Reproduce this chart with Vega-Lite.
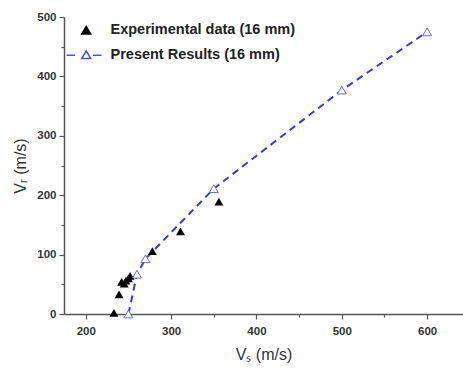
{
  "$schema": "https://vega.github.io/schema/vega-lite/v6.json",
  "autosize": "none",
  "width": 399,
  "height": 297,
  "padding": {"left": 64, "top": 17, "right": 0, "bottom": 55},
  "background": "white",
  "config": {
    "view": {"stroke": null},
    "font": "Liberation Sans",
    "axis": {
      "domainColor": "#555",
      "domainWidth": 1.5,
      "tickColor": "#555",
      "tickWidth": 1.2,
      "labelFont": "Liberation Sans",
      "labelFontWeight": "bold",
      "labelFontSize": 11.5,
      "labelColor": "#333",
      "titleFont": "Liberation Sans",
      "titleFontWeight": "normal",
      "titleFontSize": 16,
      "titleColor": "#333",
      "grid": false
    },
    "legend": {
      "orient": "none",
      "legendX": 15,
      "legendY": 6,
      "title": null,
      "labelFont": "Liberation Sans",
      "labelFontWeight": "bold",
      "labelFontSize": 14.5,
      "labelColor": "#222",
      "labelLimit": 0,
      "labelOffset": 17,
      "rowPadding": 9,
      "symbolSize": 80,
      "symbolStrokeWidth": 1.5
    }
  },
  "data": {
    "values": [
      {"series": "Experimental data (16 mm)", "vs": 233, "vr": 2},
      {"series": "Experimental data (16 mm)", "vs": 239, "vr": 33},
      {"series": "Experimental data (16 mm)", "vs": 242, "vr": 54},
      {"series": "Experimental data (16 mm)", "vs": 245, "vr": 51},
      {"series": "Experimental data (16 mm)", "vs": 247, "vr": 56},
      {"series": "Experimental data (16 mm)", "vs": 250, "vr": 60},
      {"series": "Experimental data (16 mm)", "vs": 252, "vr": 64},
      {"series": "Experimental data (16 mm)", "vs": 278, "vr": 106},
      {"series": "Experimental data (16 mm)", "vs": 311, "vr": 139},
      {"series": "Experimental data (16 mm)", "vs": 356, "vr": 189},
      {"series": "Present Results (16 mm)", "vs": 250, "vr": 0},
      {"series": "Present Results (16 mm)", "vs": 260, "vr": 67},
      {"series": "Present Results (16 mm)", "vs": 270, "vr": 93},
      {"series": "Present Results (16 mm)", "vs": 350, "vr": 211},
      {"series": "Present Results (16 mm)", "vs": 500, "vr": 377},
      {"series": "Present Results (16 mm)", "vs": 600, "vr": 475}
    ]
  },
  "encoding": {
    "x": {
      "field": "vs", "type": "quantitative",
      "scale": {"domain": [174.5, 642], "nice": false, "zero": false},
      "axis": {
        "title": "Vₛ (m/s)",
        "values": [200, 250, 300, 350, 400, 450, 500, 550, 600],
        "labelExpr": "datum.value % 100 === 0 ? datum.label : ''",
        "tickSize": {"condition": {"test": "datum.value % 100 === 0", "value": 5}, "value": 3},
        "labelPadding": 6,
        "titlePadding": 10
      }
    },
    "y": {
      "field": "vr", "type": "quantitative",
      "scale": {"domain": [0, 500], "nice": false},
      "axis": {
        "title": "Vᵣ (m/s)",
        "values": [0, 50, 100, 150, 200, 250, 300, 350, 400, 450, 500],
        "labelExpr": "datum.value % 100 === 0 ? datum.label : ''",
        "tickSize": {"condition": {"test": "datum.value % 100 === 0", "value": 5}, "value": 3},
        "labelPadding": 3,
        "titlePadding": 8
      }
    }
  },
  "layer": [
    {
      "transform": [{"filter": "datum.series === 'Present Results (16 mm)'"}],
      "mark": {"type": "line", "color": "#3838d0", "strokeWidth": 2, "strokeDash": [7, 5]},
      "encoding": {}
    },
    {
      "transform": [{"filter": "datum.series === 'Experimental data (16 mm)'"}],
      "mark": {"type": "point", "shape": "triangle-up", "size": 80, "filled": true, "color": "black", "opacity": 1}
    },
    {
      "transform": [{"filter": "datum.series === 'Present Results (16 mm)'"}],
      "mark": {"type": "point", "shape": "triangle-up", "size": 80, "fill": "white", "stroke": "#6a6ae0", "strokeWidth": 1, "opacity": 1}
    },
    {
      "transform": [{"filter": "false"}],
      "mark": {"type": "point", "size": 80, "strokeWidth": 1.5, "opacity": 1},
      "encoding": {
        "fill": {
          "field": "series", "type": "nominal",
          "scale": {"domain": ["Experimental data (16 mm)", "Present Results (16 mm)"], "range": ["black", "white"]}
        },
        "stroke": {
          "field": "series", "type": "nominal",
          "scale": {"domain": ["Experimental data (16 mm)", "Present Results (16 mm)"], "range": ["black", "#5050d8"]}
        },
        "shape": {
          "field": "series", "type": "nominal",
          "scale": {"domain": ["Experimental data (16 mm)", "Present Results (16 mm)"], "range": ["triangle-up", "M-4.4,0L-2.5,0M1.5,0L3.4,0M0,-1L1,0.75L-1,0.75Z"]}
        }
      }
    }
  ]
}
